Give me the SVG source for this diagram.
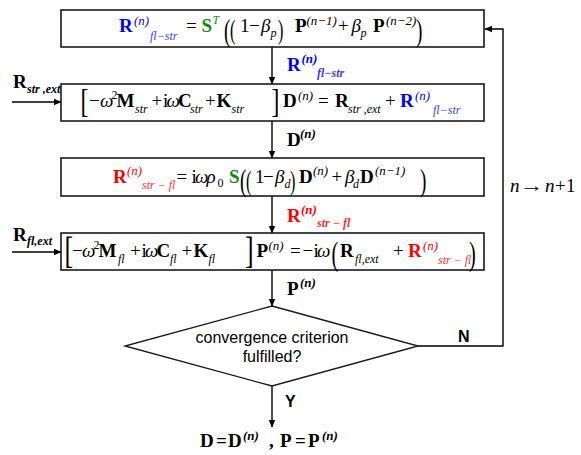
<svg xmlns="http://www.w3.org/2000/svg" width="581" height="455" viewBox="0 0 581 455">
<defs>
<marker id="ah" markerWidth="8" markerHeight="8" refX="7" refY="4" orient="auto" markerUnits="userSpaceOnUse">
<path d="M0,0.8 L7.5,4 L0,7.2 Z" fill="#000"/>
</marker>
<style>
text{font-family:"Liberation Serif","Times New Roman",serif;font-size:19px;fill:#000}
.bd{font-weight:bold}
.it{font-style:italic}
.sp{font-style:italic;font-size:13px}
.sb{font-style:italic;font-size:12px}
.bl{fill:#0000ff}
.bs{fill:#3a3aff}
.rd{fill:#ff0000}
.rs{fill:#ff3030}
.gr{fill:#138a13}
.box{fill:#fff;stroke:#1a1a1a;stroke-width:1.6}
.ln{fill:none;stroke:#000;stroke-width:1.4}
.sf{font-family:"Liberation Sans",Arial,sans-serif;font-size:16px}
.dl{font-weight:normal}
.d32{font-size:32px}
.d27{font-size:27px}
.d34{font-size:34px}
.d37{font-size:37px}
</style>
</defs>

<g id="connectors">
<line class="ln" x1="272" y1="47" x2="272" y2="84" marker-end="url(#ah)"/>
<line class="ln" x1="272" y1="121" x2="272" y2="158" marker-end="url(#ah)"/>
<line class="ln" x1="272" y1="196" x2="272" y2="233" marker-end="url(#ah)"/>
<line class="ln" x1="272" y1="270" x2="272" y2="306" marker-end="url(#ah)"/>
<line class="ln" x1="272" y1="386" x2="272" y2="427" marker-end="url(#ah)"/>
<line class="ln" x1="12" y1="102" x2="61" y2="102" marker-end="url(#ah)"/>
<line class="ln" x1="12" y1="252" x2="61" y2="252" marker-end="url(#ah)"/>
<polyline class="ln" points="418,346 503,346 503,29 485,29" marker-end="url(#ah)"/>
</g>

<g id="box1">
<rect class="box" x="61" y="10" width="423" height="37"/>
<text>
<tspan class="bd bl" x="119" y="32">R</tspan>
<tspan class="sp bl" x="134" y="25">(n)</tspan>
<tspan class="sb bs" x="150" y="40">fl−str</tspan>
<tspan x="186" y="32">=</tspan>
<tspan class="bd gr" x="201.5" y="32">S</tspan>
<tspan class="sb gr" x="212.5" y="24">T</tspan>
<tspan x="240" y="32">1</tspan>
<tspan x="249" y="32">−</tspan>
<tspan class="it" x="261" y="32">β</tspan>
<tspan class="sb" x="270.5" y="37">p</tspan>
<tspan class="bd" x="295" y="32">P</tspan>
<tspan class="sp" x="306.5" y="25">(n−1)</tspan>
<tspan x="338" y="32">+</tspan>
<tspan class="it" x="351.5" y="32">β</tspan>
<tspan class="sb" x="360.5" y="37">p</tspan>
<tspan class="bd" x="373" y="32">P</tspan>
<tspan class="sp" x="386" y="25">(n−2)</tspan>
</text>
<text class="dl d32" transform="translate(224,40.5) scale(0.6,1)">(</text>
<text class="dl d27" transform="translate(230,39) scale(0.6,1)">(</text>
<text class="dl d27" transform="translate(278,39) scale(0.6,1)">)</text>
<text class="dl d32" transform="translate(416,40.5) scale(0.6,1)">)</text>
</g>

<g id="label-rflstr">
<text>
<tspan class="bd bl" x="287" y="71">R</tspan>
<tspan class="sp bd bl" x="301.5" y="63">(n)</tspan>
<tspan class="sb bd bs" x="317" y="77">fl−str</tspan>
</text>
</g>

<g id="input-rstrext">
<text>
<tspan class="bd" x="13" y="88">R</tspan>
<tspan class="sb bd" x="27" y="93">str ,ext</tspan>
</text>
</g>

<g id="box2">
<rect class="box" x="61" y="84" width="423" height="37"/>
<text>
<tspan x="89" y="107">−</tspan>
<tspan class="it" x="100" y="107">ω</tspan>
<tspan font-size="12" x="111.5" y="99">2</tspan>
<tspan class="bd" x="116.5" y="107">M</tspan>
<tspan class="sb" x="135" y="113">str</tspan>
<tspan x="151.5" y="107">+</tspan>
<tspan x="163" y="107">i</tspan>
<tspan class="it" x="166.5" y="107">ω</tspan>
<tspan class="bd" x="178" y="107">C</tspan>
<tspan class="sb" x="190" y="113">str</tspan>
<tspan x="205" y="107">+</tspan>
<tspan class="bd" x="216.5" y="107">K</tspan>
<tspan class="sb" x="231.5" y="113">str</tspan>
<tspan class="bd" x="283" y="107">D</tspan>
<tspan class="sp" x="298" y="100">(n)</tspan>
<tspan x="318" y="107">=</tspan>
<tspan class="bd" x="335" y="107">R</tspan>
<tspan class="sb" x="348" y="113">str ,ext</tspan>
<tspan x="385" y="107">+</tspan>
<tspan class="bd bl" x="400" y="107">R</tspan>
<tspan class="sp bl" x="415" y="100">(n)</tspan>
<tspan class="sb bs" x="433" y="114">fl−str</tspan>
</text>
<text class="dl d34" transform="translate(80.5,112) scale(0.7,1)">[</text>
<text class="dl d34" transform="translate(271.5,112) scale(0.7,1)">]</text>
</g>

<g id="label-d">
<text>
<tspan class="bd" x="287" y="146">D</tspan>
<tspan class="sp bd" x="300" y="138">(n)</tspan>
</text>
</g>

<g id="box3">
<rect class="box" x="61" y="158" width="423" height="38"/>
<text>
<tspan class="bd rd" x="113" y="183">R</tspan>
<tspan class="sp rd" x="127" y="175">(n)</tspan>
<tspan class="sb rs" x="142" y="189">str − fl</tspan>
<tspan x="176.5" y="183">=</tspan>
<tspan x="191.5" y="183">i</tspan>
<tspan class="it" x="195" y="183">ω</tspan>
<tspan class="it" x="206.5" y="183">ρ</tspan>
<tspan font-size="12" x="217.5" y="187">0</tspan>
<tspan class="bd gr" x="229" y="183">S</tspan>
<tspan x="255" y="183">1</tspan>
<tspan x="263" y="183">−</tspan>
<tspan class="it" x="275" y="183">β</tspan>
<tspan class="sb" x="284.5" y="188">d</tspan>
<tspan class="bd" x="299" y="183">D</tspan>
<tspan class="sp" x="313" y="175">(n)</tspan>
<tspan x="331.5" y="183">+</tspan>
<tspan class="it" x="345" y="183">β</tspan>
<tspan class="sb" x="353" y="188">d</tspan>
<tspan class="bd" x="360" y="183">D</tspan>
<tspan class="sp" x="375" y="175">(n−1)</tspan>
</text>
<text class="dl d32" transform="translate(240,191) scale(0.6,1)">(</text>
<text class="dl d27" transform="translate(246,189.5) scale(0.6,1)">(</text>
<text class="dl d27" transform="translate(290,189.5) scale(0.6,1)">)</text>
<text class="dl d32" transform="translate(420,191) scale(0.6,1)">)</text>
</g>

<g id="label-rstrfl">
<text>
<tspan class="bd rd" x="287" y="222">R</tspan>
<tspan class="sp bd rd" x="301" y="214">(n)</tspan>
<tspan class="sb bd rs" x="317" y="227">str − fl</tspan>
</text>
</g>

<g id="input-rflext">
<text>
<tspan class="bd" x="13" y="241">R</tspan>
<tspan class="sb bd" x="27" y="245">fl,ext</tspan>
</text>
</g>

<g id="box4">
<rect class="box" x="61" y="233" width="423" height="37"/>
<text>
<tspan x="72" y="257">−</tspan>
<tspan class="it" x="82" y="257">ω</tspan>
<tspan font-size="12" x="93.5" y="249">2</tspan>
<tspan class="bd" x="98.5" y="257">M</tspan>
<tspan class="sb" x="118" y="263">fl</tspan>
<tspan x="130" y="257">+</tspan>
<tspan x="141.5" y="257">i</tspan>
<tspan class="it" x="145" y="257">ω</tspan>
<tspan class="bd" x="156.5" y="257">C</tspan>
<tspan class="sb" x="170" y="263">fl</tspan>
<tspan x="181.5" y="257">+</tspan>
<tspan class="bd" x="193.5" y="257">K</tspan>
<tspan class="sb" x="208.5" y="263">fl</tspan>
<tspan class="bd" x="256.5" y="257">P</tspan>
<tspan class="sp" x="268.5" y="250">(n)</tspan>
<tspan x="290" y="257">=</tspan>
<tspan x="302.5" y="257">−</tspan>
<tspan x="313.5" y="257">i</tspan>
<tspan class="it" x="317" y="257">ω</tspan>
<tspan class="bd" x="340" y="257">R</tspan>
<tspan class="sb" x="355" y="263">fl,ext</tspan>
<tspan x="393" y="257">+</tspan>
<tspan class="bd rd" x="408" y="257">R</tspan>
<tspan class="sp rd" x="423" y="250">(n)</tspan>
<tspan class="sb rs" x="438" y="264">str − fl</tspan>
</text>
<text class="dl d37" transform="translate(64.5,263) scale(0.7,1)">[</text>
<text class="dl d37" transform="translate(245,263) scale(0.7,1)">]</text>
<text class="dl d34" transform="translate(331.5,265) scale(0.6,1)">(</text>
<text class="dl d34" transform="translate(469,265) scale(0.6,1)">)</text>
</g>

<g id="label-p">
<text>
<tspan class="bd" x="287" y="295">P</tspan>
<tspan class="sp bd" x="300" y="287">(n)</tspan>
</text>
</g>

<g id="decision">
<polygon points="272,306 418,346 272,386 125,346" fill="#fff" stroke="#1a1a1a" stroke-width="1.4"/>
<text class="sf" x="272" y="343" text-anchor="middle">convergence criterion</text>
<text class="sf" x="272" y="362" text-anchor="middle">fulfilled?</text>
</g>

<g id="edge-labels">
<text class="sf" x="458" y="342" font-weight="bold">N</text>
<text class="sf" x="285" y="407" font-weight="bold">Y</text>
<text>
<tspan class="it" x="510" y="192">n</tspan>
<tspan class="it" x="545" y="192">n</tspan>
<tspan x="555" y="192">+</tspan>
<tspan x="566" y="192">1</tspan>
</text>
<text transform="translate(519.6,192) scale(1.27,1)">→</text>
</g>

<g id="result">
<text>
<tspan class="bd" x="200" y="447">D</tspan>
<tspan class="bd" x="216" y="447">=</tspan>
<tspan class="bd" x="228" y="447">D</tspan>
<tspan class="sp bd" x="243" y="440">(n)</tspan>
<tspan class="bd" x="269" y="447">,</tspan>
<tspan class="bd" x="280" y="447">P</tspan>
<tspan class="bd" x="295" y="447">=</tspan>
<tspan class="bd" x="308" y="447">P</tspan>
<tspan class="sp bd" x="322" y="440">(n)</tspan>
</text>
</g>
</svg>
